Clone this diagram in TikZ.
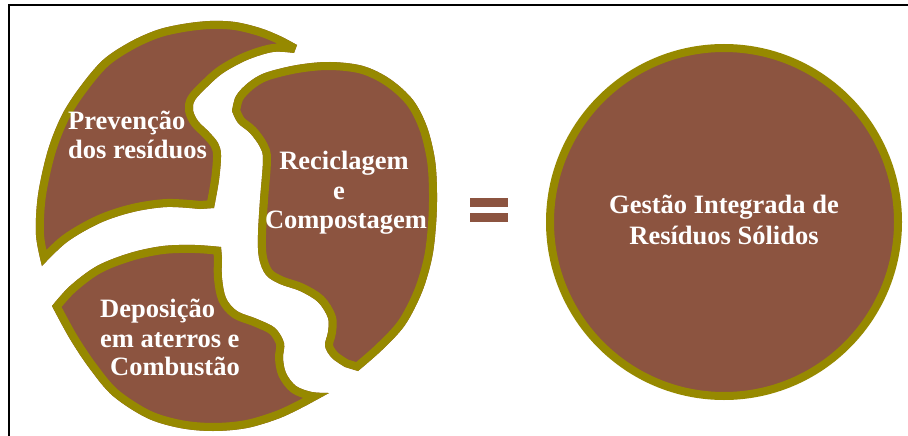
\documentclass[tikz,border=0pt]{standalone}
\usepackage{fontspec}
\setmainfont{Liberation Serif}
\definecolor{piecefill}{RGB}{140,84,64}
\definecolor{rim}{RGB}{150,137,0}
\tikzset{
  lbl/.style={font=\fontsize{26.5}{30}\selectfont\bfseries, text=white, inner sep=0pt},
  frameline/.style={draw=black, line width=1.8pt},
  rimstroke/.style={draw=rim, line width=16pt, line join=round},
  equalsbar/.style={fill=piecefill, draw=none},
  bigdisc/.style={circle, fill=piecefill, draw=rim, line width=8pt, minimum size=348pt, inner sep=0pt}
}
% outlines of the three puzzle pieces (outer edge of the rim)
\def\pieceprev{plot[smooth,tension=0.55] coordinates {(42,266) (36,235) (38,195) (48,150) (62,115) (80,87) (103,60) (130,42) (157,30) (183,24) (210,21) (235,22) (260,28) (280,36) (297,45)}
 -- plot[smooth,tension=0.55] coordinates {(294,53) (273,52) (247,60) (223,73) (207,87) (195,100) (193,110) (198,121) (209,132) (218,143) (221,155) (219,180) (214,208)}
 -- plot[smooth,tension=0.55] coordinates {(200,209) (167,207) (133,212) (100,223) (67,242) (42,266)} -- cycle}
\def\piecerec{plot[smooth,tension=0.55] coordinates {(232,111) (236,96) (248,83) (265,73) (297,65) (330,62) (363,66) (390,79) (413,100) (427,127) (435,160) (437,193) (436,225) (432,258) (422,292) (405,325) (382,350) (358,371)}
 -- plot[smooth,tension=0.55] coordinates {(345,367) (332,358) (325,346) (328,332) (328,318) (318,302) (300,291) (280,284) (266,275) (259,258) (258,235) (260,200) (263,160) (260,147) (250,133) (238,123) (232,111)} -- cycle}
\def\piecedep{plot[smooth,tension=0.55] coordinates {(52,306) (70,286) (97,266) (130,253) (163,246) (195,245) (221,247)}
 -- plot[smooth,tension=0.55] coordinates {(222,258) (222,278) (226,298) (237,311) (257,319) (275,328) (284,343) (283,358) (286,373) (296,386) (312,392) (329,393)}
 -- plot[smooth,tension=0.55] coordinates {(307,405) (280,418) (247,428) (213,431) (180,428) (147,418) (113,396) (90,369) (70,339) (52,306)} -- cycle}
\begin{document}
\begin{tikzpicture}[x=1pt,y=-1pt]
  \useasboundingbox (0,0) rectangle (908,436);
  % frame
  \coordinate (ftl) at (9,5.2);
  \coordinate (ftr) at (908,5.2);
  \coordinate (fbl) at (9,436);
  \draw[frameline] (fbl) -- (ftl) -- (ftr);

  % puzzle pieces: filled, with the rim kept inside each outline
  \foreach \pc in {\pieceprev,\piecerec,\piecedep}{
    \fill[piecefill] \pc;
    \begin{scope}
      \clip \pc;
      \draw[rimstroke] \pc;
    \end{scope}
  }

  % equals sign
  \fill[equalsbar] (470,197.7) rectangle (508,206.7);
  \fill[equalsbar] (470,213.3) rectangle (508,221.8);

  % result disc
  \node[bigdisc] (gestao) at (724,222) {};

  % labels
  \node[lbl, anchor=base west] (prev1) at (68,129) {Prevenção};
  \node[lbl, anchor=base west] (prev2) at (68,158) {dos resíduos};
  \node[lbl, anchor=base] (rec1) at (344,169) {Reciclagem};
  \node[lbl, anchor=base] (rec2) at (339,199) {e};
  \node[lbl, anchor=base] (rec3) at (346,228) {Compostagem};
  \node[lbl, anchor=base west] (dep1) at (100,317) {Deposição};
  \node[lbl, anchor=base west] (dep2) at (100,347) {em aterros e};
  \node[lbl, anchor=base east] (dep3) at (240,375) {Combustão};
  \node[lbl, anchor=base] (gir1) at (724,213) {Gestão Integrada de};
  \node[lbl, anchor=base] (gir2) at (724,244) {Resíduos Sólidos};
\end{tikzpicture}
\end{document}
